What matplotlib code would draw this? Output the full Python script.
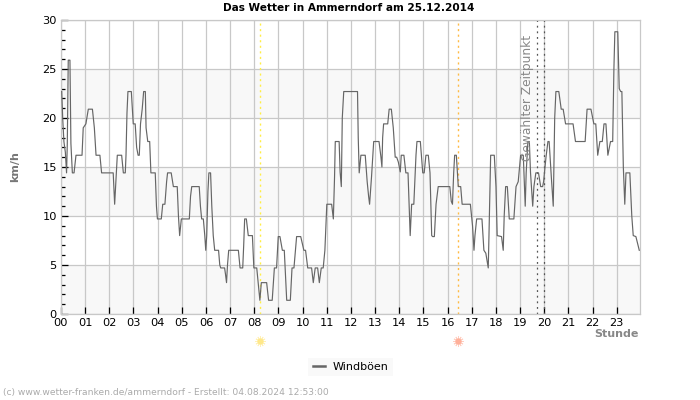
import matplotlib
matplotlib.use('Agg')
import matplotlib.pyplot as plt
from matplotlib.transforms import blended_transform_factory

title = 'Das Wetter in Ammerndorf am 25.12.2014'
footer = '(c) www.wetter-franken.de/ammerndorf - Erstellt: 04.08.2024 12:53:00'
hour_labels = ['%02d' % h for h in range(24)]
bands = [(0, 5), (10, 15), (20, 25)]
sunrise = 8.23
sunset = 16.44
selected = [19.71, 19.98]

# time in hours, gust in km/h
hours = [0.03, 0.07, 0.12, 0.18, 0.23, 0.26, 0.3, 0.37, 0.41, 0.47, 0.54, 0.62, 0.87, 0.92, 1.03, 1.13, 1.3, 1.38,
         1.45, 1.61, 1.68, 2.16, 2.22, 2.28, 2.33, 2.51, 2.58, 2.66, 2.69, 2.73, 2.77, 2.91, 2.99, 3.07, 3.13, 3.19,
         3.24, 3.29, 3.36, 3.42, 3.49, 3.52, 3.59, 3.67, 3.72, 3.9, 3.95, 3.99, 4.15, 4.21, 4.3, 4.37, 4.41, 4.56,
         4.65, 4.81, 4.86, 4.91, 4.95, 4.98, 5.31, 5.36, 5.41, 5.72, 5.77, 5.82, 5.89, 5.95, 5.99, 6.03, 6.08, 6.12,
         6.19, 6.24, 6.3, 6.36, 6.52, 6.57, 6.61, 6.77, 6.81, 6.85, 6.89, 6.94, 7.34, 7.41, 7.52, 7.56, 7.6, 7.67,
         7.75, 7.92, 7.98, 8.1, 8.16, 8.23, 8.29, 8.35, 8.51, 8.59, 8.74, 8.83, 8.92, 8.99, 9.06, 9.16, 9.24, 9.31,
         9.34, 9.49, 9.56, 9.64, 9.75, 9.92, 10.05, 10.12, 10.21, 10.37, 10.44, 10.52, 10.62, 10.69, 10.77, 10.85,
         10.92, 11.0, 11.2, 11.27, 11.32, 11.35, 11.51, 11.55, 11.6, 11.64, 11.7, 12.27, 12.3, 12.34, 12.41, 12.59,
         12.67, 12.73, 12.77, 12.85, 12.9, 12.94, 13.16, 13.24, 13.28, 13.31, 13.35, 13.52, 13.58, 13.67, 13.75,
         13.83, 13.89, 13.96, 14.04, 14.08, 14.19, 14.27, 14.36, 14.41, 14.45, 14.51, 14.6, 14.69, 14.73, 14.87,
         14.97, 15.03, 15.1, 15.2, 15.27, 15.34, 15.38, 15.45, 15.52, 15.61, 16.09, 16.15, 16.2, 16.25, 16.29, 16.36,
         16.44, 16.54, 16.6, 16.94, 17.03, 17.09, 17.13, 17.2, 17.42, 17.5, 17.58, 17.68, 17.71, 17.75, 17.78, 17.93,
         18.0, 18.05, 18.23, 18.3, 18.34, 18.4, 18.47, 18.55, 18.74, 18.83, 18.92, 19.02, 19.13, 19.21, 19.25, 19.32,
         19.38, 19.43, 19.52, 19.57, 19.65, 19.76, 19.85, 19.93, 19.97, 20.07, 20.15, 20.2, 20.29, 20.37, 20.43,
         20.48, 20.6, 20.7, 20.78, 20.88, 21.19, 21.29, 21.69, 21.77, 21.93, 22.05, 22.13, 22.21, 22.3, 22.4, 22.47,
         22.55, 22.63, 22.74, 22.83, 22.88, 22.92, 23.04, 23.1, 23.16, 23.21, 23.27, 23.33, 23.38, 23.54, 23.62,
         23.68, 23.79, 23.93]
gusts = [22.7, 20.0, 17.6, 16.5, 14.4, 17.3, 25.9, 25.9, 17.4, 14.4, 14.4, 16.2, 16.2, 19.0, 19.4, 20.9, 20.9, 19.0,
         16.2, 16.2, 14.4, 14.4, 11.2, 14.0, 16.2, 16.2, 14.4, 14.4, 16.2, 20.5, 22.7, 22.7, 19.4, 19.4, 17.0, 16.2,
         16.2, 19.4, 20.9, 22.7, 22.7, 19.0, 17.6, 17.6, 14.4, 14.4, 11.0, 9.7, 9.7, 11.2, 11.2, 13.5, 14.4, 14.4,
         13.0, 13.0, 10.0, 8.0, 9.0, 9.7, 9.7, 12.0, 13.0, 13.0, 11.0, 9.7, 9.7, 8.0, 6.5, 8.0, 12.5, 14.4,
         14.4, 11.0, 8.0, 6.5, 6.5, 5.0, 4.7, 4.7, 4.0, 3.2, 5.0, 6.5, 6.5, 4.7, 4.7, 7.0, 9.7, 9.7,
         8.0, 8.0, 4.7, 4.7, 3.2, 1.4, 3.2, 3.2, 3.2, 1.4, 1.4, 4.7, 4.7, 7.9, 7.9, 6.5, 6.5, 3.0,
         1.4, 1.4, 4.7, 4.7, 7.9, 7.9, 6.5, 6.5, 4.7, 4.7, 3.2, 4.7, 4.7, 3.2, 4.7, 4.7,
         6.5, 11.2, 11.2, 9.7, 14.0, 17.6, 17.6, 14.5, 13.0, 20.0, 22.7, 22.7, 18.0, 14.4, 16.2, 16.2,
         13.5, 12.0, 11.2, 14.0, 16.0, 17.6, 17.6, 16.0, 15.0, 18.0, 19.4, 19.4, 20.9, 20.9, 19.0,
         16.0, 16.0, 15.5, 14.5, 16.2, 16.2, 14.4, 14.4, 11.0, 8.0, 11.2, 11.2, 16.2, 17.6, 17.6,
         14.4, 14.4, 16.2, 16.2, 14.4, 8.0, 7.9, 7.9, 11.2, 13.0, 13.0, 11.5, 11.2, 14.4, 16.2, 16.2,
         13.0, 13.0, 11.2, 11.2, 9.0, 6.5, 8.0, 9.7, 9.7, 6.5, 6.2, 4.7, 8.0, 13.0, 16.2, 16.2,
         13.0, 8.0, 7.9, 6.5, 10.0, 13.0, 13.0, 9.7, 9.7, 13.0, 13.5, 16.2, 16.2, 11.0, 14.4, 17.6,
         17.6, 14.4, 11.0, 13.0, 14.4, 14.4, 13.0, 13.0, 13.5, 16.0, 17.6, 17.6, 14.0, 11.0, 20.0,
         22.7, 22.7, 20.9, 20.9, 19.4, 19.4, 17.6, 17.6, 20.9, 20.9, 19.4, 19.4, 16.2, 17.6, 17.6, 19.4,
         19.4, 16.2, 17.6, 17.6, 25.0, 28.8, 28.8, 23.0, 22.7, 22.7, 15.0, 11.2, 14.4, 14.4, 10.0,
         8.0, 7.9, 6.5]

fig = plt.figure(figsize=(7, 4), dpi=100)
ax = fig.add_axes([61 / 700, 1 - 314 / 400, (640 - 61) / 700, (314 - 20) / 400])

for low, high in bands:
    ax.axhspan(low, high, color='#f8f8f8', lw=0, zorder=0)
ax.grid(True, color='#c8c8c8', lw=0.9, zorder=1)
ax.set_axisbelow(True)

ax.axvline(sunrise, color='#ffee44', ls=(0, (1.5, 2.5)), lw=1, zorder=2)
ax.axvline(sunset, color='#ffbb44', ls=(0, (1.5, 2.5)), lw=1, zorder=2)
for s in selected:
    ax.axvline(s, color='#555555', ls=(0, (1.5, 3)), lw=0.9, zorder=2)

line, = ax.plot(hours, gusts, color='#666666', lw=0.85, label='Windböen', zorder=3)

ax.set_xlim(0, 23.96)
ax.set_ylim(0, 30)
ax.set_xticks(range(24))
ax.set_xticklabels(hour_labels)
ax.set_yticks(range(0, 31, 5))
ax.set_yticks(range(0, 31), minor=True)
ax.tick_params(axis='both', which='major', direction='in', length=5, width=0.9, labelsize=8.2, pad=3, colors='black')
ax.tick_params(axis='y', which='minor', direction='in', length=3, width=0.9, colors='black')
for side in ax.spines.values():
    side.set_color('#c8c8c8')
    side.set_linewidth(0.9)

ax.text(19.32, 22, 'Gewählter Zeitpunkt', rotation=90, ha='center', va='center', fontsize=8.8, color='#888888', zorder=4)

fig.text(349 / 700, 1 - 8 / 400, title, ha='center', va='center', fontsize=7.6, fontweight='bold')
fig.text(15 / 700, 1 - 167 / 400, 'km/h', rotation=90, ha='center', va='center', fontsize=8, fontweight='bold', color='#777777')
fig.text(639 / 700, 1 - 334 / 400, 'Stunde', ha='right', va='center', fontsize=8, fontweight='bold', color='#888888')
fig.text(3 / 700, 1 - 393 / 400, footer, ha='left', va='center', fontsize=6.6, color='#aaaaaa')

# sun symbols below the axis
trans = blended_transform_factory(ax.transData, fig.transFigure)
for x, col in [(sunrise, '#ffe88a'), (sunset, '#ffb09a')]:
    ax.plot([x], [1 - 341 / 400], transform=trans, marker='o', ms=4.5, color=col, mew=0, clip_on=False)
    ax.plot([x], [1 - 341 / 400], transform=trans, marker=(12, 2, 0), ms=7.5, color=col, mew=0.6, alpha=0.6, clip_on=False)

leg = fig.legend(handles=[line], loc='center', bbox_to_anchor=(350.5 / 700, 1 - 367 / 400), frameon=True, facecolor='#f8f8f8',
                 edgecolor='none', fancybox=False, fontsize=8, handlelength=1.1, handletextpad=0.7, borderpad=0.4)
leg.legend_handles[0].set_linewidth(1.8)

fig.savefig('out.png', dpi=100)
